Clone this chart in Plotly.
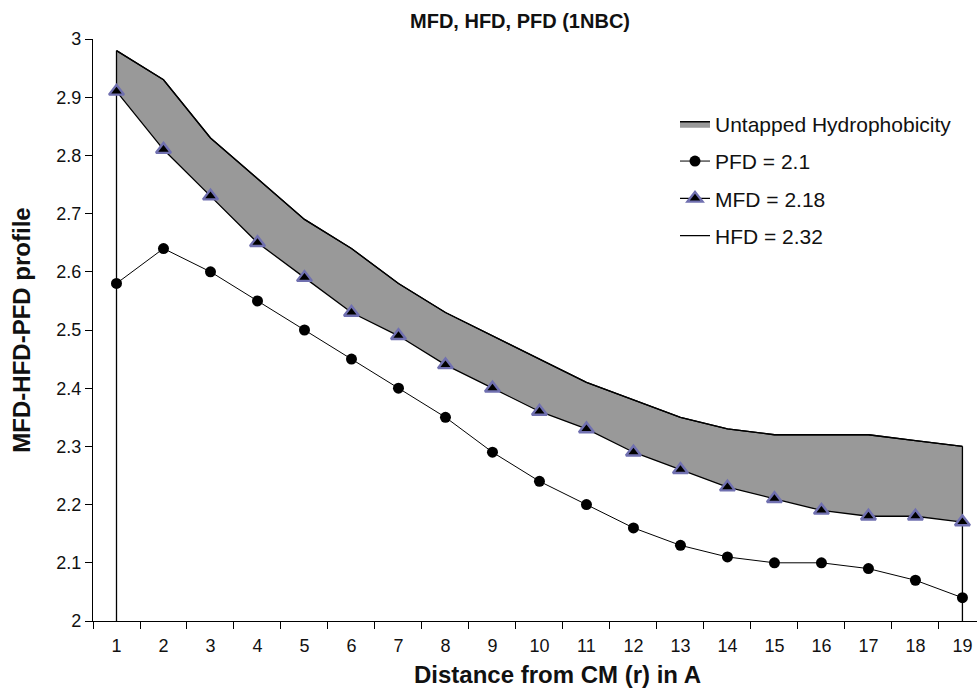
import plotly.graph_objects as go

categories = [str(i) for i in range(1, 20)]
hfd = [2.98, 2.93, 2.83, 2.76, 2.69, 2.64, 2.58, 2.53, 2.49, 2.45, 2.41, 2.38, 2.35, 2.33, 2.32, 2.32, 2.32, 2.31, 2.30]
mfd = [2.91, 2.81, 2.73, 2.65, 2.59, 2.53, 2.49, 2.44, 2.40, 2.36, 2.33, 2.29, 2.26, 2.23, 2.21, 2.19, 2.18, 2.18, 2.17]
pfd = [2.58, 2.64, 2.60, 2.55, 2.50, 2.45, 2.40, 2.35, 2.29, 2.24, 2.20, 2.16, 2.13, 2.11, 2.10, 2.10, 2.09, 2.07, 2.04]
y_min, y_max = 2.0, 3.0

FONT = "Liberation Sans, Arial, sans-serif"
W, H = 977, 689
L, R, T, B = 93, 0, 39, 68

fig = go.Figure()
fig.add_trace(go.Scatter(x=categories, y=mfd, mode="lines", line=dict(width=0, color="black"),
                         showlegend=False, hoverinfo="skip"))
fig.add_trace(go.Scatter(x=categories, y=hfd, mode="lines", fill="tonexty", fillcolor="#999999",
                         line=dict(color="black", width=1.3), name="Untapped Hydrophobicity",
                         legendgroup="a"))
fig.add_trace(go.Scatter(x=[categories[0], categories[0], None, categories[-1], categories[-1]],
                         y=[y_min, hfd[0], None, y_min, hfd[-1]], mode="lines",
                         line=dict(color="black", width=1.3), showlegend=False, hoverinfo="skip"))
fig.add_trace(go.Scatter(x=categories, y=pfd, mode="lines+markers", name="PFD = 2.1",
                         line=dict(color="black", width=1),
                         marker=dict(symbol="circle", size=11, color="black"),
                         legendgroup="b"))
fig.add_trace(go.Scatter(x=categories, y=mfd, mode="lines+markers", name="MFD = 2.18",
                         line=dict(color="black", width=1.3),
                         marker=dict(symbol="triangle-up", size=13, color="black",
                                     line=dict(color="#7070b0", width=2.4)),
                         legendgroup="c"))
fig.add_trace(go.Scatter(x=categories, y=hfd, mode="lines", name="HFD = 2.32",
                         line=dict(color="black", width=1.3), legendgroup="d"))

plot_w = W - L - R
fig.update_layout(
    width=W, height=H,
    margin=dict(l=L, r=R, t=T, b=B, autoexpand=False),
    paper_bgcolor="white", plot_bgcolor="white",
    font=dict(family=FONT, color="#111111", size=18),
    title=dict(text="<b>MFD, HFD, PFD (1NBC)</b>", x=520 / W, xanchor="center",
               y=1 - 21 / H, yanchor="middle", font=dict(size=20, family=FONT, color="#111111")),
    legend=dict(x=(675 - L) / plot_w, y=0.889, xanchor="left", yanchor="top", traceorder="grouped",
                tracegroupgap=7, font=dict(size=21, family=FONT, color="#111111"),
                bgcolor="rgba(0,0,0,0)"),
    showlegend=True,
    annotations=[dict(text="<b>Distance from CM (r) in A</b>", xref="paper", yref="paper",
                      x=(557 - L) / plot_w, y=0, yshift=-53, xanchor="center",
                      yanchor="middle", showarrow=False, font=dict(size=24, family=FONT, color="#111111"))],
)
fig.update_xaxes(type="category", range=[-0.5, 18.31], tickson="boundaries", ticks="outside",
                 ticklen=7, tickcolor="black", showline=True, linecolor="black", linewidth=1.3,
                 showgrid=False, zeroline=False, tickfont=dict(size=18), automargin=False,
                 ticklabelstandoff=8)
fig.update_yaxes(range=[y_min, y_max], dtick=0.1, tick0=2, ticks="outside", ticklen=7,
                 tickcolor="black", showline=True, linecolor="black", linewidth=1.3,
                 showgrid=False, zeroline=False, tickfont=dict(size=18), automargin=False,
                 title=dict(text="<b>MFD-HFD-PFD profile</b>", font=dict(size=24), standoff=18))

fig.write_html("out.html", config={"displayModeBar": False},
               post_script="document.body.style.margin='0px';document.body.style.padding='0px';")
